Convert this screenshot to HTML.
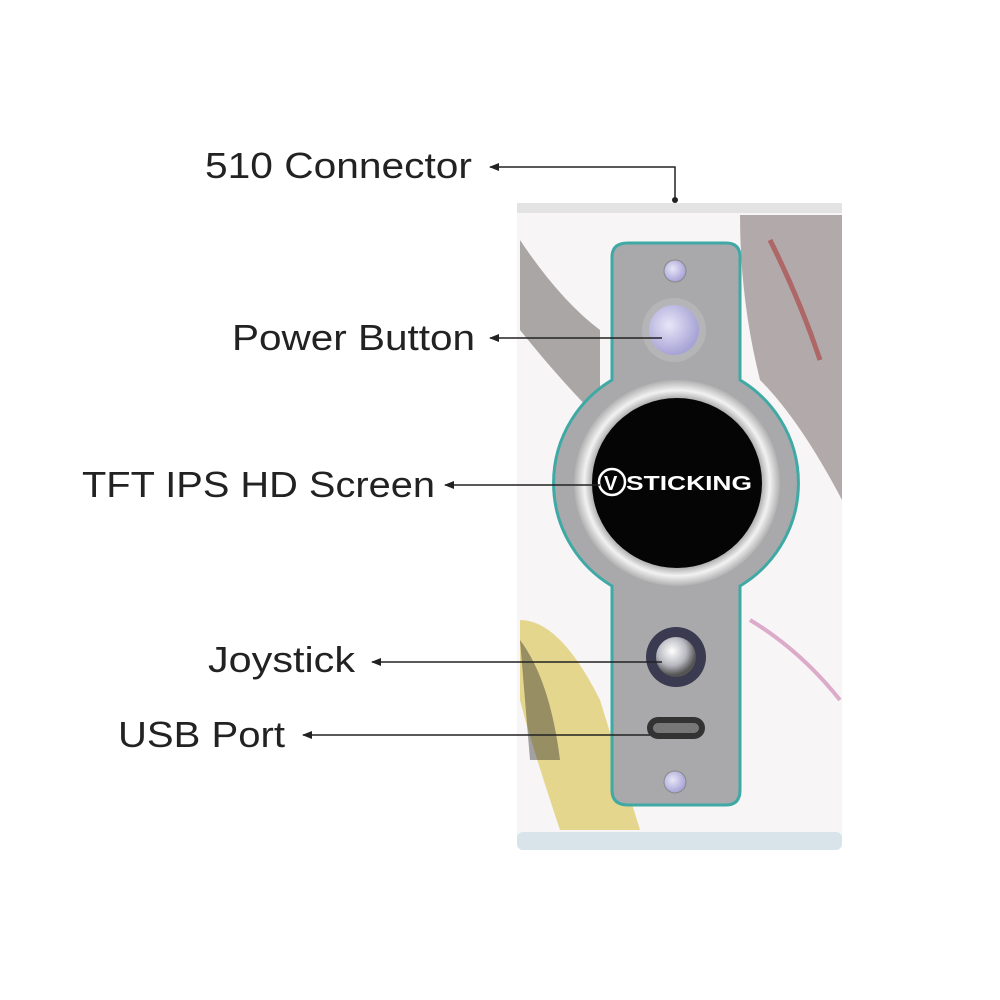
<!DOCTYPE html>
<html><head><meta charset="utf-8"><style>
html,body{margin:0;padding:0;background:#fff;width:1000px;height:1000px;overflow:hidden}
text{font-family:"Liberation Sans",sans-serif;fill:#222}
</style></head><body>
<svg width="1000" height="1000" viewBox="0 0 1000 1000" xmlns="http://www.w3.org/2000/svg">
<defs>
<marker id="ah" markerWidth="10" markerHeight="8" refX="9" refY="4" orient="auto" markerUnits="userSpaceOnUse">
<path d="M0,0 L10,4 L0,8 Z" fill="#222"/></marker>
<radialGradient id="ring" cx="50%" cy="50%" r="50%">
<stop offset="80%" stop-color="#9a9a9a"/><stop offset="90%" stop-color="#f2f2f2"/><stop offset="100%" stop-color="#b0b0b0"/></radialGradient>
<radialGradient id="btn" cx="40%" cy="40%" r="60%"><stop offset="0%" stop-color="#e8e6f8"/><stop offset="100%" stop-color="#a7a3d6"/></radialGradient>
<radialGradient id="joy" cx="40%" cy="35%" r="60%"><stop offset="0%" stop-color="#fff"/><stop offset="60%" stop-color="#b8b8c0"/><stop offset="100%" stop-color="#555"/></radialGradient>
</defs>
<rect x="517" y="203" width="325" height="647" rx="8" fill="#f7f5f5"/>
<rect x="517" y="203" width="325" height="10" fill="#e3e3e3"/>
<rect x="517" y="832" width="325" height="18" rx="6" fill="#d8e3ea"/>
<path d="M520 240 Q560 300 600 330 L600 420 Q560 380 520 330Z" fill="#3a3030" opacity=".4"/>
<path d="M740 215 L842 215 L842 500 Q800 420 760 380 Q740 300 740 215Z" fill="#4a3a3a" opacity=".4"/>
<path d="M520 620 Q560 620 600 700 L640 830 L560 830 Q530 740 520 700Z" fill="#d9c24a" opacity=".6"/>
<path d="M520 640 Q550 680 560 760 L530 760Z" fill="#222" opacity=".4"/>
<path d="M750 620 Q800 650 840 700" stroke="#a27" stroke-width="4" fill="none" opacity=".35"/>
<path d="M770 240 Q800 300 820 360" stroke="#a22" stroke-width="5" fill="none" opacity=".5"/>
<path d="M628 243 H726 Q740 243 740 257 V380 A120 120 0 0 1 740 586 V790 Q740 805 726 805 H628 Q612 805 612 790 V586 A120 120 0 0 1 612 380 V257 Q612 243 628 243Z" fill="#a9a9ab" stroke="#3fa9a5" stroke-width="3"/>
<circle cx="677" cy="483" r="103" fill="url(#ring)"/>
<circle cx="677" cy="483" r="85" fill="#050505"/>
<circle cx="612" cy="482" r="13" fill="none" stroke="#fff" stroke-width="2.5"/>
<text x="604" y="490" font-size="20" font-weight="bold" style="fill:#fff">V</text>
<text x="626" y="490" font-size="20" font-weight="bold" style="fill:#fff" textLength="126" lengthAdjust="spacingAndGlyphs">STICKING</text>
<circle cx="675" cy="271" r="11" fill="url(#btn)" stroke="#888"/>
<circle cx="675" cy="782" r="11" fill="url(#btn)" stroke="#888"/>
<circle cx="674" cy="330" r="32" fill="#b5b5b8"/>
<circle cx="674" cy="330" r="25" fill="url(#btn)"/>
<circle cx="676" cy="657" r="30" fill="#3a3a50"/>
<circle cx="676" cy="657" r="20" fill="url(#joy)"/>
<rect x="647" y="717" width="58" height="22" rx="11" fill="#333"/>
<rect x="653" y="723" width="46" height="10" rx="5" fill="#777"/>
<g font-size="36">
<text x="205" y="178" textLength="267" lengthAdjust="spacingAndGlyphs">510 Connector</text>
<text x="232" y="350" textLength="243" lengthAdjust="spacingAndGlyphs">Power Button</text>
<text x="82" y="497" textLength="353" lengthAdjust="spacingAndGlyphs">TFT IPS HD Screen</text>
<text x="208" y="672" textLength="147" lengthAdjust="spacingAndGlyphs">Joystick</text>
<text x="118" y="747" textLength="167" lengthAdjust="spacingAndGlyphs">USB Port</text>
</g>
<g stroke="#222" stroke-width="1.5" fill="none">
<path d="M675 200 V167 H490" marker-end="url(#ah)"/>
<path d="M662 338 H490" marker-end="url(#ah)"/>
<path d="M600 485 H445" marker-end="url(#ah)"/>
<path d="M662 662 H372" marker-end="url(#ah)"/>
<path d="M650 735 H303" marker-end="url(#ah)"/>
</g>
<circle cx="675" cy="200" r="3" fill="#222"/>
</svg>
</body></html>
